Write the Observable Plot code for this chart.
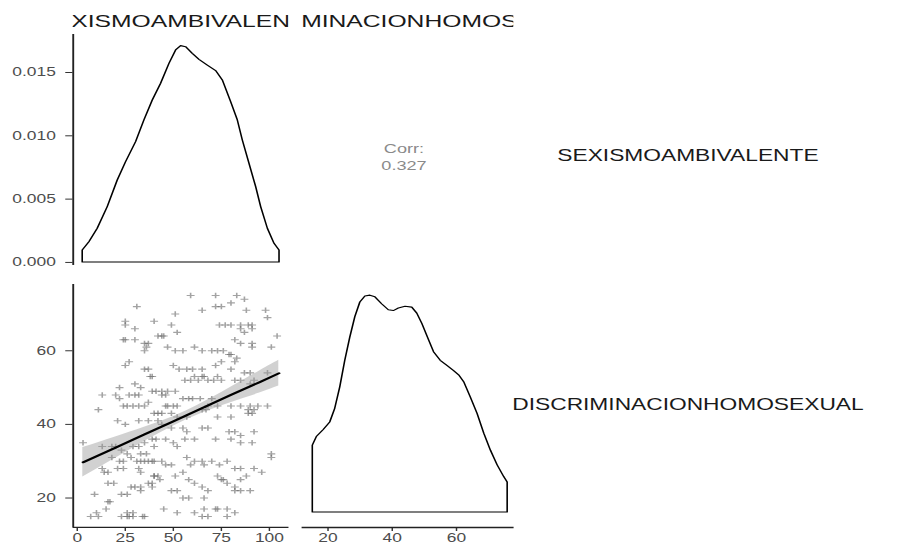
<!DOCTYPE html>
<html><head><meta charset="utf-8">
<script src="https://cdn.jsdelivr.net/npm/d3@7"></script>
<script src="https://cdn.jsdelivr.net/npm/@observablehq/plot@0.6"></script>
<style>
body{margin:0;background:#fff;}
#stage{position:relative;width:623.45px;height:549px;transform:scaleX(1.45);transform-origin:0 0;font-family:"Liberation Sans",Arial,sans-serif;}
#stage svg{position:absolute;overflow:visible;background:transparent;}
.strip{position:absolute;display:flex;justify-content:center;align-items:center;overflow:hidden;white-space:nowrap;font-size:17px;color:#1a1a1a;}
.rstrip{position:absolute;text-align:center;white-space:nowrap;font-size:15.7px;color:#1a1a1a;}
</style></head><body><div id="stage"></div><script>
const varNames = ["SEXISMOAMBIVALENTE", "DISCRIMINACIONHOMOSEXUAL"];
const corrLabel = "Corr:";
const corrValue = "0.327";
const sexTicks = [0, 25, 50, 75, 100];
const disTicks = [20, 40, 60];
const densTicks = [0, 0.005, 0.010, 0.015];

// density of SEXISMOAMBIVALENTE
const sexDensX = [2.95, 6.42, 10.76, 15.97, 21.18, 25.52, 30.73, 35.07, 39.41, 43.75, 48.09, 51.56, 54.17, 56.77, 60.24, 63.72, 68.06, 72.4, 75.87, 80.2, 83.68, 86.28, 89.76, 93.23, 95.83, 99.31, 102.78, 105.38];
const sexDensY = [0.00095, 0.0016, 0.00266, 0.00437, 0.00647, 0.00792, 0.0095, 0.01121, 0.01279, 0.01411, 0.01568, 0.01674, 0.01708, 0.0170, 0.01647, 0.0160, 0.01555, 0.01511, 0.01437, 0.01266, 0.01121, 0.00963, 0.00779, 0.00595, 0.00437, 0.00266, 0.00147, 0.00095];

// density of DISCRIMINACIONHOMOSEXUAL
const disDensX = [15.33, 16.58, 18.66, 20.75, 22.31, 23.88, 25.44, 27.0, 28.57, 30.13, 31.7, 33.26, 34.83, 36.91, 39.0, 40.56, 42.12, 44.21, 46.3, 47.86, 49.43, 51.51, 53.07, 55.16, 57.24, 59.33, 60.89, 62.46, 64.54, 66.63, 68.71, 70.8, 72.88, 74.97, 76.0];
const disDensY = [0.0078, 0.0088, 0.0096, 0.0105, 0.0121, 0.0146, 0.0177, 0.0204, 0.0228, 0.0245, 0.0252, 0.0253, 0.0251, 0.0243, 0.0236, 0.0235, 0.0238, 0.0240, 0.0239, 0.0232, 0.0220, 0.0201, 0.0187, 0.0177, 0.0171, 0.0165, 0.0160, 0.0152, 0.0134, 0.0115, 0.0092, 0.0072, 0.0055, 0.0041, 0.0035];

// scatter: [SEXISMOAMBIVALENTE, DISCRIMINACIONHOMOSEXUAL]
const scatterPairs = [[59,75],[72,75],[83,75],[87,74],[31,72],[80,73],[65,71],[72,72],[75,72],[88,71],[98,71],[51,70],[99,69],[25,68],[40,68],[49,67],[52,65],[74,67],[77,67],[80,67],[85,67],[89,67],[91,67],[25,67],[30,66],[85,66],[87,65],[91,66],[42,64],[44,64],[45,64],[24,63],[25,63],[30,63],[104,64],[82,63],[85,62],[91,62],[35,62],[37,62],[36,61],[35,60],[47,61],[51,60],[55,60],[61,61],[65,60],[70,60],[73,60],[76,60],[79,59],[80,59],[83,58],[91,61],[101,61],[25,56],[27,57],[35,55],[37,55],[50,56],[53,55],[57,55],[60,55],[65,55],[75,57],[82,57],[80,55],[72,56],[87,54],[90,54],[99,54],[39,53],[38,53],[61,53],[65,53],[66,53],[68,52],[71,52],[73,53],[75,52],[56,52],[59,52],[63,52],[82,52],[85,52],[90,51],[92,52],[22,50],[30,51],[33,50],[39,49],[41,49],[44,49],[47,49],[51,49],[13,48],[20,48],[22,47],[27,48],[30,48],[32,48],[55,47],[58,47],[60,47],[64,47],[70,47],[44,48],[46,48],[11,44],[24,45],[26,45],[29,45],[32,45],[35,45],[37,46],[46,45],[47,45],[50,45],[52,45],[68,45],[73,45],[80,45],[85,45],[90,45],[94,45],[99,45],[65,44],[67,44],[89,44],[92,44],[40,43],[42,43],[44,43],[49,43],[52,42],[57,42],[73,42],[80,42],[89,43],[91,43],[21,41],[25,40],[32,41],[37,41],[42,41],[44,40],[49,39],[55,39],[57,38],[65,39],[68,39],[79,38],[82,38],[85,37],[92,38],[3,35],[13,34],[18,34],[20,34],[23,33],[29,34],[32,34],[35,35],[39,36],[41,36],[46,36],[50,35],[52,34],[56,36],[61,36],[72,36],[80,36],[85,35],[91,35],[101,31],[101,32],[40,34],[36,32],[33,32],[31,30],[26,32],[28,31],[18,31],[22,30],[24,30],[33,30],[35,30],[37,30],[39,30],[40,30],[44,30],[46,29],[49,29],[57,31],[59,29],[61,30],[65,30],[66,29],[70,30],[74,29],[78,30],[82,28],[85,28],[88,26],[92,28],[96,27],[13,28],[14,27],[16,27],[21,28],[24,28],[32,28],[33,27],[40,26],[43,25],[51,26],[55,27],[58,25],[61,24],[73,26],[78,24],[82,23],[85,25],[16,24],[19,24],[37,24],[39,23],[39,24],[28,23],[30,23],[33,23],[65,23],[68,22],[49,22],[52,22],[75,25],[76,25],[9,21],[23,21],[26,21],[33,22],[16,19],[17,19],[55,20],[58,20],[66,20],[82,22],[15,17],[10,16],[72,17],[73,17],[78,17],[61,16],[66,17],[82,16],[45,17],[52,16],[26,16],[29,16],[7,15],[11,15],[23,15],[26,15],[27,15],[34,15],[35,15],[65,15],[68,15],[78,15],[90,22],[85,22],[40,26],[42,26],[29,15]];

// fitted linear model (geom_smooth, method lm)
const lmX = [3, 20, 35, 50, 65, 80, 95, 105];
const lmFit = [29.7, 33.7, 37.3, 40.8, 44.4, 48.0, 51.5, 53.9];
const lmLow = [25.7, 30.8, 35.35, 39.5, 43.0, 45.9, 48.5, 50.4];
const lmHigh = [33.7, 36.6, 39.25, 42.1, 45.8, 50.1, 54.5, 57.4];

// ---------- layout ----------
const S = 1.45; // horizontal stretch of the whole figure
const sexDomain = [-2.1, 110.3];
const disDomain = [12, 78];
const densDomainTop = [-0.00024, 0.018];
const densDomainBottom = [-0.00175, 0.0266];
const cols = [{l: 72 / S, r: 288 / S}, {l: 302 / S, r: 514 / S}];
const rows = [{t: 34, b: 265}, {t: 284, b: 527}];
const ML = 45, MB = 25;
const stage = document.getElementById("stage");
const style = {fontFamily: "'Liberation Sans', Arial, sans-serif", fontSize: "12px", background: "transparent", overflow: "visible"};
const tickText = "#4d4d4d", tickLine = "#333";

function place(svg, col, row) {
  svg.style.left = (col.l - ML) + "px";
  svg.style.top = row.t + "px";
  stage.appendChild(svg);
}
function dims(col, row) {
  return {width: (col.r - col.l) + ML, height: (row.b - row.t) + MB, marginLeft: ML, marginBottom: MB, marginTop: 0, marginRight: 0, style};
}

// top-left: density of SEXISMO
const sexDens = sexDensX.map((x, i) => ({x, y: sexDensY[i]}));
place(Plot.plot({
  ...dims(cols[0], rows[0]),
  x: {domain: sexDomain, axis: null},
  y: {domain: densDomainTop},
  marks: [
    Plot.axisY(densTicks, {tickFormat: d3.format(".3f"), tickSize: 5, tickPadding: 7, fill: tickText, stroke: tickLine, label: null}),
    Plot.ruleX([sexDomain[0]], {stroke: "#222", strokeWidth: 1.3}),
    Plot.areaY(sexDens, {x: "x", y: "y", fill: "none", stroke: "black", strokeWidth: 1.1})
  ]
}), cols[0], rows[0]);

// top-right: correlation
place(Plot.plot({
  ...dims(cols[1], rows[0]),
  x: {domain: disDomain, axis: null},
  y: {domain: densDomainTop, axis: null},
  marks: [
    Plot.text([corrLabel + "\n" + corrValue], {frameAnchor: "middle", dx: -3, dy: 6, fill: "#8a8a8a", fontSize: 12.5, lineHeight: 1.4})
  ]
}), cols[1], rows[0]);

// bottom-left: scatter + lm
const scatter = scatterPairs.map(([sx, dv]) => ({sx, dv}));
const lm = lmX.map((x, i) => ({x, fit: lmFit[i], lo: lmLow[i], hi: lmHigh[i]}));
place(Plot.plot({
  ...dims(cols[0], rows[1]),
  x: {domain: sexDomain},
  y: {domain: disDomain},
  marks: [
    Plot.axisY(disTicks, {tickSize: 5, tickPadding: 7, fill: tickText, stroke: tickLine, label: null}),
    Plot.axisX(sexTicks, {tickSize: 4, tickPadding: 2, fill: tickText, stroke: tickLine, label: null}),
    Plot.ruleX([sexDomain[0]], {stroke: "#222", strokeWidth: 1.3}),
    Plot.ruleY([disDomain[0]], {stroke: "#222", strokeWidth: 1.3}),
    Plot.dot(scatter, {x: "sx", y: "dv", symbol: "plus", r: 1.9, fill: "none", stroke: "#666", strokeOpacity: 0.6, strokeWidth: 1.1}),
    Plot.areaY(lm, {x: "x", y1: "lo", y2: "hi", fill: "#999", fillOpacity: 0.45, curve: "natural"}),
    Plot.line(lm, {x: "x", y: "fit", stroke: "black", strokeWidth: 2})
  ]
}), cols[0], rows[1]);

// bottom-right: density of DISCRIMINACION
const disDens = disDensX.map((x, i) => ({x, y: disDensY[i]}));
place(Plot.plot({
  ...dims(cols[1], rows[1]),
  x: {domain: disDomain},
  y: {domain: densDomainBottom, axis: null},
  marks: [
    Plot.axisX(disTicks, {tickSize: 4, tickPadding: 2, fill: tickText, stroke: tickLine, label: null}),
    Plot.ruleY([densDomainBottom[0]], {stroke: "#222", strokeWidth: 1.3}),
    Plot.areaY(disDens, {x: "x", y: "y", fill: "none", stroke: "black", strokeWidth: 1.1})
  ]
}), cols[1], rows[1]);

// strips
varNames.forEach((name, i) => {
  const top = document.createElement("div");
  top.className = "strip";
  top.textContent = name;
  top.style.left = cols[i].l + "px";
  top.style.width = (cols[i].r - cols[i].l) + "px";
  top.style.top = "12px";
  top.style.height = "20px";
  stage.appendChild(top);

  const right = document.createElement("div");
  right.className = "rstrip";
  right.textContent = name;
  const cx = 688 / S;
  right.style.left = (cx - 150) + "px";
  right.style.width = "300px";
  const cy = i === 0 ? 156 : 405;
  right.style.top = (cy - 9) + "px";
  right.style.lineHeight = "18px";
  stage.appendChild(right);
});
</script></body></html>
